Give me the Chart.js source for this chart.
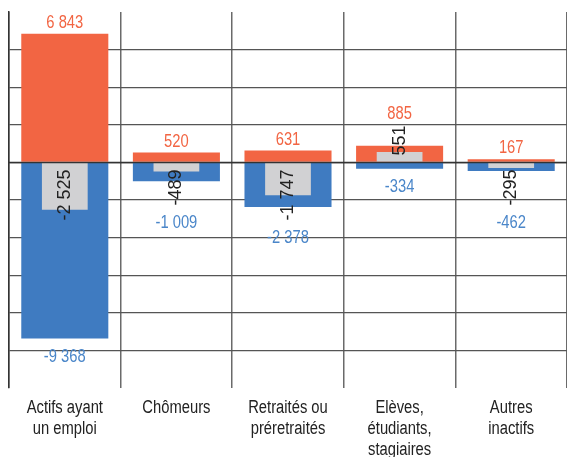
<!DOCTYPE html>
<html>
<head>
<meta charset="utf-8">
<script src="https://cdn.jsdelivr.net/npm/chart.js@4.4.1/dist/chart.umd.min.js"></script>
<style>
  html, body { margin: 0; padding: 0; background: #fff; }
  #wrap { width: 567px; height: 457px; }
</style>
</head>
<body>
<div id="wrap"><canvas id="flowChart" width="567" height="457"></canvas></div>
<script>
// Categories and values
const categories = [
    ['Actifs ayant', 'un emploi'],
    ['Chômeurs'],
    ['Retraités ou', 'préretraités'],
    ['Elèves,', 'étudiants,', 'stagiaires'],
    ['Autres', 'inactifs']
];
const entrees = [6843, 520, 631, 885, 167];
const sorties = [-9368, -1009, -2378, -334, -462];
const solde = [-2525, -489, -1747, 551, -295];

const yMin = -12000;
const yMax = 8000;
const yStep = 2000;

const ORANGE = '#F26543';
const BLUE = '#3F7BC1';
const BLUE_TEXT = '#4A86C9';
const GREY = '#D1D1D3';
const FONT = "18px 'Liberation Sans', Arial, sans-serif";
const NARROW = 0.82; // the original uses a narrow sans

// French style thousands separator: 6 843
function fmt(v) {
    const s = Math.abs(v).toString().replace(/\B(?=(\d{3})+(?!\d))/g, ' ');
    return (v < 0 ? '-' : '') + s;
}

// narrow text helper
function narrowText(ctx, txt, x, y, align) {
    ctx.save();
    ctx.translate(x, y);
    ctx.scale(NARROW, 1);
    ctx.textAlign = align;
    ctx.fillText(txt, 0, 0);
    ctx.restore();
}

// Draws zero line over the bars, value labels and category labels
const barLabels = {
    id: 'barLabels',
    afterDatasetsDraw(chart) {
        const ctx = chart.ctx;
        const area = chart.chartArea;
        const y0 = chart.scales.y.getPixelForValue(0);
        const soldeMeta = chart.getDatasetMeta(0);
        const inMeta = chart.getDatasetMeta(1);
        const outMeta = chart.getDatasetMeta(2);
        ctx.save();

        // zero line sits on top of the bars
        ctx.strokeStyle = '#333';
        ctx.lineWidth = 1.5;
        ctx.beginPath();
        ctx.moveTo(area.left, y0);
        ctx.lineTo(area.right, y0);
        ctx.stroke();

        ctx.font = FONT;
        ctx.textBaseline = 'alphabetic';
        for (let i = 0; i < categories.length; i++) {
            const g = soldeMeta.data[i];
            const o = inMeta.data[i];
            const b = outMeta.data[i];

            // rotated net label, starting from the zero line
            const txt = fmt(solde[i]);
            const w = ctx.measureText(txt).width;
            ctx.save();
            ctx.fillStyle = '#222';
            ctx.translate(g.x + 5, solde[i] >= 0 ? y0 - 7 : y0 + 7);
            ctx.rotate(-Math.PI / 2);
            ctx.textAlign = solde[i] >= 0 ? 'left' : 'right';
            ctx.fillText(txt, 0, 0);
            ctx.restore();
            let top = o.y;
            let bottom = b.y;
            if (solde[i] >= 0) top = Math.min(top, y0 - 7 - w);
            else bottom = Math.max(bottom, y0 + 7 + w);

            ctx.fillStyle = ORANGE;
            narrowText(ctx, fmt(entrees[i]), o.x, top - 6, 'center');
            ctx.fillStyle = BLUE_TEXT;
            narrowText(ctx, fmt(sorties[i]), b.x, bottom + 10 + 13, 'center');
        }

        // category labels under the plot
        const xs = chart.scales.x;
        ctx.fillStyle = '#222';
        for (let i = 0; i < categories.length; i++) {
            const cx = xs.getPixelForTick(i);
            categories[i].forEach((line, k) => {
                narrowText(ctx, line, cx, xs.top + 25 + k * 21, 'center');
            });
        }
        ctx.restore();
    }
};

const ctx = document.getElementById('flowChart').getContext('2d');
new Chart(ctx, {
    type: 'bar',
    data: {
        labels: categories,
        datasets: [
            {
                label: 'Solde',
                data: solde,
                backgroundColor: GREY,
                grouped: false,
                barPercentage: 0.41,
                categoryPercentage: 1,
                order: 0
            },
            {
                label: 'Entrées',
                data: entrees,
                backgroundColor: ORANGE,
                grouped: false,
                barPercentage: 0.78,
                categoryPercentage: 1,
                order: 1
            },
            {
                label: 'Sorties',
                data: sorties,
                backgroundColor: BLUE,
                grouped: false,
                barPercentage: 0.78,
                categoryPercentage: 1,
                order: 2
            }
        ]
    },
    options: {
        responsive: false,
        animation: false,
        devicePixelRatio: 1,
        layout: { padding: { left: 9, top: 12, right: 0, bottom: 0 } },
        plugins: {
            legend: { display: false },
            tooltip: { enabled: false }
        },
        scales: {
            x: {
                grid: {
                    offset: true,
                    drawTicks: false,
                    color: (c) => c.index === categories.length ? 'rgba(0,0,0,0)' : '#6a6a6a',
                    lineWidth: 1.5
                },
                border: { display: false },
                ticks: { display: false },
                afterFit: (scale) => { scale.height = 69; }
            },
            y: {
                min: yMin,
                max: yMax,
                ticks: { display: false, stepSize: yStep },
                grid: {
                    drawTicks: false,
                    lineWidth: 1.2,
                    color: (c) => {
                        const v = c.tick ? c.tick.value : null;
                        if (v === yMin || v === yMax) return 'rgba(0,0,0,0)';
                        if (v === 0) return '#333';
                        return '#555';
                    }
                },
                border: { display: true, color: '#333', width: 1.5 }
            }
        }
    },
    plugins: [barLabels]
});
</script>
</body>
</html>
